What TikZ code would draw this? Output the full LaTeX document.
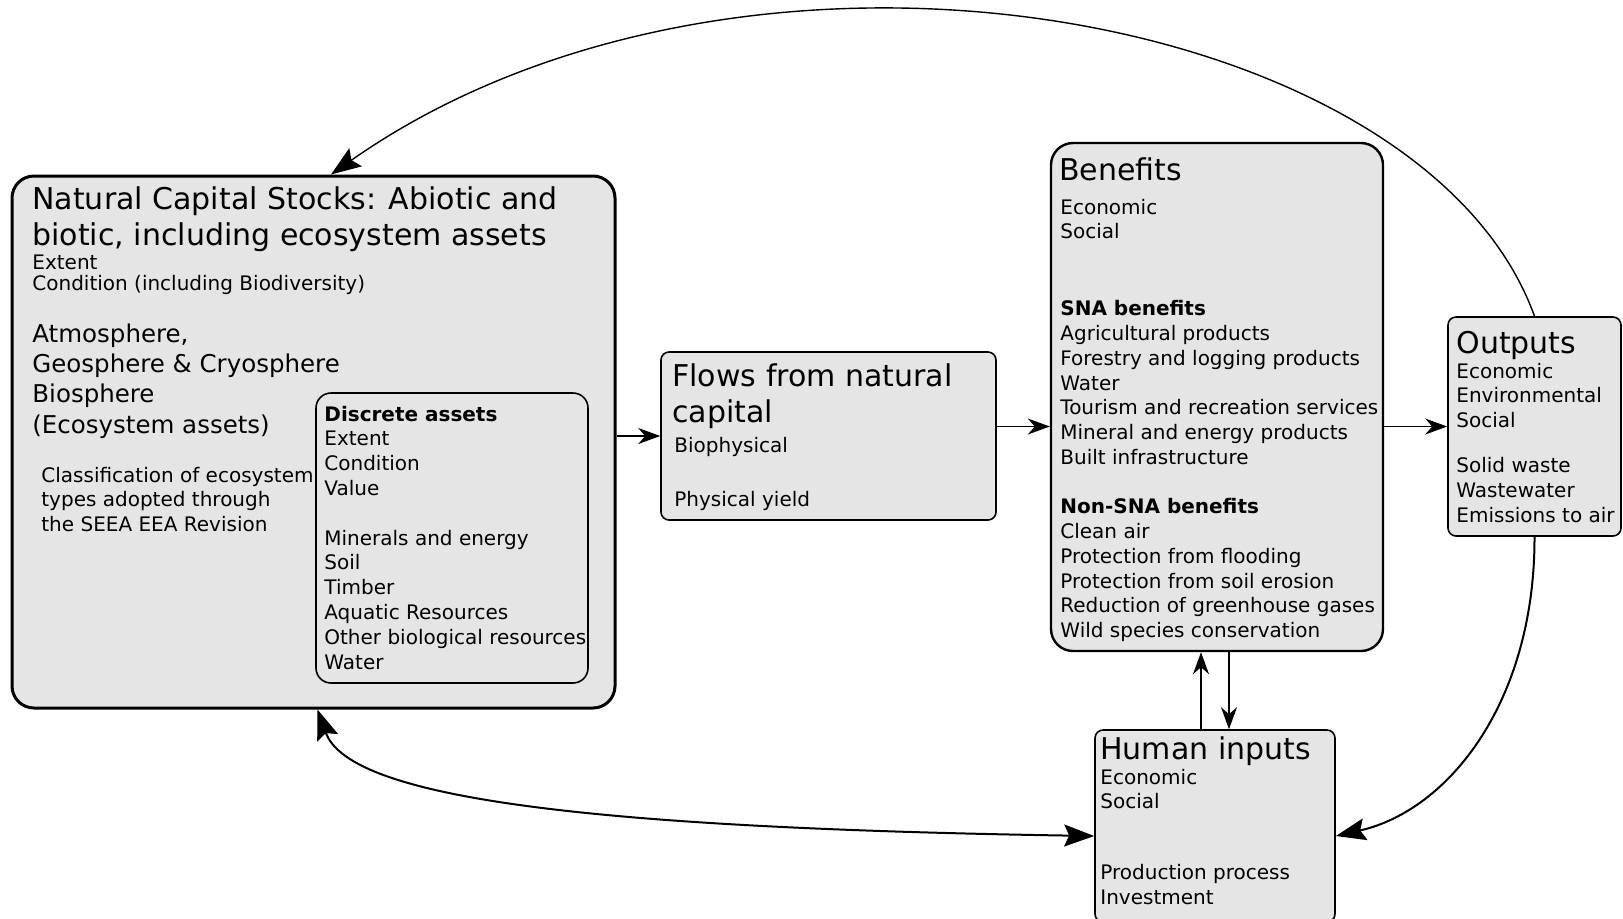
\documentclass[tikz,border=0pt]{standalone}
\usepackage{fontspec}
\setmainfont{DejaVu Sans}
\usetikzlibrary{arrows.meta}

\begin{document}
\begin{tikzpicture}[x=0.5pt, y=-0.5pt,
    kasten/.style={
      draw,
      rectangle,
      fill=black!10,
      inner sep=0pt,
      line width=0.8pt,
      rounded corners=4pt},
    grosskasten/.style={kasten, line width=1.5pt, rounded corners=11pt},
    titel/.style={anchor=base west, inner sep=0pt, align=left, font=\fontsize{15}{18}\selectfont},
    zeilen/.style={anchor=base west, inner sep=0pt, align=left, font=\fontsize{10}{12.4}\selectfont},
    pfeil/.style={-{Stealth[length=11pt, width=8pt, inset=3.5pt]}, line width=0.8pt},
    grosspfeil/.style={-{Stealth[length=15pt, width=11pt, inset=2.5pt]}, line width=1pt},
    doppelpfeil/.style={{Stealth[length=15pt, width=11pt, inset=2.5pt]}-{Stealth[length=15pt, width=11pt, inset=2.5pt]}, line width=1pt}
  ]
  \useasboundingbox (0,0) rectangle (1623,918);

  \node at (313.5, 442) (kapital) [grosskasten, minimum width=301.5pt, minimum height=266pt] {};
\node at (452, 538) (einzeln) [kasten, rounded corners=7.5pt, minimum width=136pt, minimum height=145pt] {};
\node at (828.5, 436) (fluesse) [kasten, minimum width=167.5pt, minimum height=84pt] {};
\node at (1217, 397) (nutzen) [grosskasten, line width=1.2pt, minimum width=166pt, minimum height=254pt] {};
\node at (1534.5, 426.5) (ergebnis) [kasten, minimum width=86.5pt, minimum height=109.5pt] {};
\node at (1215, 826) (eingaben) [kasten, minimum width=120pt, minimum height=96pt] {};

  % the base anchor of a node with several lines sits on its last line
  \node at (32, 245) (kapitaltitel) [titel] {Natural Capital Stocks: Abiotic and\\biotic, including ecosystem assets};
\node at (32, 290.7) (kapitalmass) [zeilen, font=\fontsize{10}{10.85}\selectfont] {Extent\\Condition (including Biodiversity)};
\node at (32, 433) (sphaeren) [zeilen, font=\fontsize{12.25}{15.15}\selectfont] {Atmosphere,\\Geosphere \& Cryosphere\\Biosphere\\(Ecosystem assets)};
\node at (41, 531.6) (klassifikation) [zeilen] {Classification of ecosystem\\types adopted through\\the SEEA EEA Revision};
\node at (324, 669) (einzelntext) [zeilen] {\textbf{Discrete assets}\\Extent\\Condition\\Value\\[12.4pt]Minerals and energy\\Soil\\Timber\\Aquatic Resources\\Other biological resources\\Water};
\node at (672, 422) (fluessetitel) [titel] {Flows from natural\\capital};
\node at (674, 506) (fluessetext) [zeilen] {Biophysical\\[14.6pt]Physical yield};
\node at (1059, 180) (nutzentitel) [titel] {Benefits};
\node at (1060, 637.6) (nutzentext) [zeilen] {Economic\\Social\\[26pt]\textbf{SNA benefits}\\Agricultural products\\Forestry and logging products\\Water\\Tourism and recreation services\\Mineral and energy products\\Built infrastructure\\[12.2pt]\textbf{Non-SNA benefits}\\Clean air\\Protection from flooding\\Protection from soil erosion\\Reduction of greenhouse gases\\Wild species conservation};
\node at (1456, 353) (ergebnistitel) [titel] {Outputs};
\node at (1456, 522) (ergebnistext) [zeilen] {Economic\\Environmental\\Social\\[10pt]Solid waste\\Wastewater\\Emissions to air};
\node at (1100, 759) (eingabentitel) [titel] {Human inputs};
\node at (1100, 904.4) (eingabentext) [zeilen] {Economic\\Social\\[23pt]Production process\\Investment};

  \coordinate (hoch) at ([xshift=-7pt]eingaben.north);
\coordinate (runter) at ([xshift=7pt]eingaben.north);

  \path[pfeil]
        (kapital.east |- fluesse.west) edge (fluesse.west)
(fluesse.east |- ergebnis.west) edge (nutzen.west |- ergebnis.west)
(nutzen.east |- ergebnis.west) edge (ergebnis.west)
(hoch) edge (hoch |- nutzen.south)
(runter |- nutzen.south) edge (runter)
   ;

  \draw[grosspfeil, line width=0.7pt] (ergebnis.north) .. controls (1423, 7) and (741, -113) .. ([xshift=8.75pt]kapital.north);
\draw[grosspfeil] (ergebnis.south) .. controls (1535, 700) and (1450, 810) .. ([yshift=-5pt]eingaben.east);
\draw[doppelpfeil] ([xshift=2pt]kapital.south) .. controls (350, 800) and (600, 828) .. ([yshift=-5pt]eingaben.west);

\end{tikzpicture}
\end{document}
